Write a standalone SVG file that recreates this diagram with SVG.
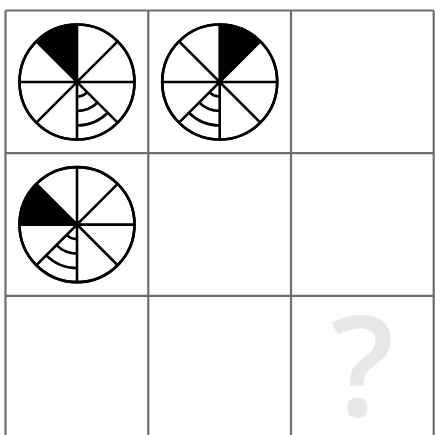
<svg xmlns="http://www.w3.org/2000/svg" xmlns:xlink="http://www.w3.org/1999/xlink" width="435" height="435" viewBox="0 0 435 435">
<style>
.grid{stroke:#6e6e6e;stroke-width:2.2;fill:none}
.w{fill:#fff;stroke:#000;stroke-width:2.6}
.ln{stroke:#000;stroke-width:2.6;fill:none}
.blk{fill:#000}
.q{font-family:"Open Sans","Noto Sans",sans-serif;font-size:140px;font-weight:600;fill:#e6e7e8;text-anchor:middle}
</style>
<defs>
<path id="sector" class="blk" d="M0,0L0,-57.5A57.5,57.5 0 0 0 -40.66,-40.66Z"/>
<path id="arcs" class="ln" d="M0,14.5A14.5,14.5 0 0 0 10.25,10.25M0,29A29,29 0 0 0 20.51,20.51M0,43.5A43.5,43.5 0 0 0 30.76,30.76"/>
<path id="spokes" class="ln" d="M0,-57.5V57.5M-57.5,0H57.5M-40.66,-40.66L40.66,40.66M-40.66,40.66L40.66,-40.66"/>
</defs>
<g id="grid">
<path class="grid" d="M5.5,10.5H433.7M5.5,153.2H433.7M5.5,295.9H433.7M5.5,10.5V435M148.3,10.5V435M291,10.5V435M433.7,10.5V435"/>
</g>
<g id="cell1" transform="translate(77,82)">
<circle class="w" r="57.5"/>
<use xlink:href="#sector"/>
<use xlink:href="#arcs"/>
<use xlink:href="#spokes"/>
<circle r="57.5" class="ln"/>
</g>
<g id="cell2" transform="translate(219.7,82)">
<circle class="w" r="57.5"/>
<use xlink:href="#sector" transform="rotate(45)"/>
<use xlink:href="#arcs" transform="rotate(45)"/>
<use xlink:href="#spokes"/>
<circle r="57.5" class="ln"/>
</g>
<g id="cell4" transform="translate(77,224.6)">
<circle class="w" r="57.5"/>
<use xlink:href="#sector" transform="rotate(-45)"/>
<use xlink:href="#arcs" transform="rotate(45)"/>
<use xlink:href="#spokes"/>
<circle r="57.5" class="ln"/>
</g>
<g id="cell9">
<text class="q" x="362.5" y="416">?</text>
</g>
</svg>
